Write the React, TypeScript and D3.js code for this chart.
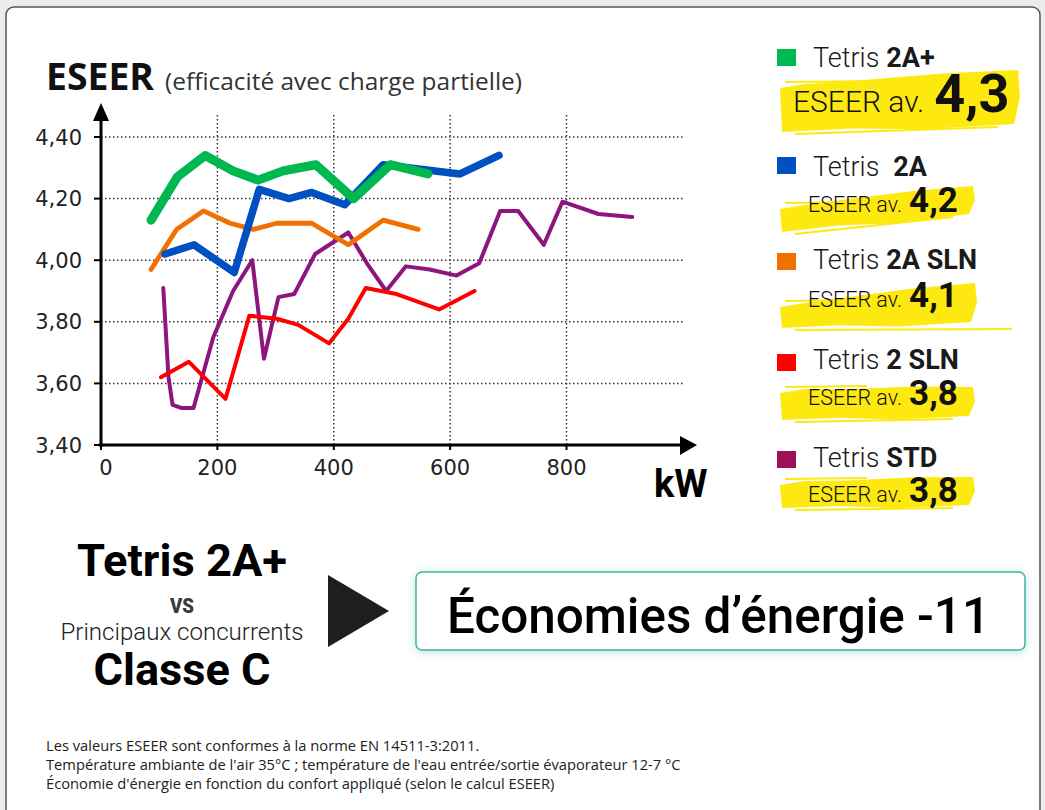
import * as d3 from "d3";

// series, in legend order
const seriesNames = ["2A+", "2A", "2A SLN", "2 SLN", "STD"];
const seriesColors = ["#00b850", "#0050c2", "#f07000", "#ff0000", "#8e1580"];
const legendColors = ["#00b850", "#0050c2", "#f07000", "#ff0000", "#9e1058"];
const eseerAverages = ["4,3", "4,2", "4,1", "3,8", "3,8"];

const kw2APlus = [86, 131, 179, 227, 270, 313, 369, 434, 497, 562];
const eseer2APlus = [4.13, 4.27, 4.34, 4.29, 4.26, 4.29, 4.31, 4.2, 4.31, 4.28];
const kw2A = [110, 160, 229, 272, 323, 362, 419, 485, 617, 684];
const eseer2A = [4.02, 4.05, 3.96, 4.23, 4.2, 4.22, 4.18, 4.31, 4.28, 4.34];
const kw2ASLN = [86, 130, 176, 222, 262, 302, 362, 425, 485, 545];
const eseer2ASLN = [3.97, 4.1, 4.16, 4.12, 4.1, 4.12, 4.12, 4.05, 4.13, 4.1];
const kw2SLN = [103, 151, 214, 255, 302, 339, 392, 425, 455, 508, 581, 642];
const eseer2SLN = [3.62, 3.67, 3.55, 3.82, 3.81, 3.79, 3.73, 3.81, 3.91, 3.89, 3.84, 3.9];
const kwSTD = [107, 116, 123, 139, 159, 193, 227, 260, 280, 305, 332, 368, 425, 457, 490, 524, 565, 611, 650, 686, 717, 761, 793, 855, 913];
const eseerSTD = [3.91, 3.62, 3.53, 3.52, 3.52, 3.75, 3.9, 4.0, 3.68, 3.88, 3.89, 4.02, 4.09, 3.99, 3.9, 3.98, 3.97, 3.95, 3.99, 4.16, 4.16, 4.05, 4.19, 4.15, 4.14];

const seriesKw = [kw2APlus, kw2A, kw2ASLN, kw2SLN, kwSTD];
const seriesEseer = [eseer2APlus, eseer2A, eseer2ASLN, eseer2SLN, eseerSTD];

const yTicks = [3.4, 3.6, 3.8, 4.0, 4.2, 4.4];
const xTicks = [0, 200, 400, 600, 800];

const footnotes = [
  "Les valeurs ESEER sont conformes à la norme EN 14511-3:2011.",
  "Température ambiante de l'air 35°C ; température de l'eau entrée/sortie évaporateur 12-7 °C",
  "Économie d'énergie en fonction du confort appliqué (selon le calcul ESEER)",
];

// layout
const lineWidths = [9, 7.5, 4.8, 4, 4];
const legendSquareY = [49, 157, 253, 354, 451];
const legendNameY = [67, 176, 269, 369, 467];
const legendAvgY = [112, 212, 307, 405, 502];
// x0, x1, topLeft, topRight, bottomLeft, bottomRight
const highlights = [
  [780, 1018, 84, 70, 132, 124],
  [780, 973, 205, 186, 232, 214],
  [780, 975, 303, 283, 328, 322],
  [780, 973, 389, 387, 420, 416],
  [780, 973, 481, 477, 508, 505],
];

const SANS = "Roboto, 'Noto Sans', sans-serif";
const OPEN = "'Open Sans', 'Noto Sans', sans-serif";

function brushPath(h: number[]) {
  const [x0, x1, tl, tr, bl, br] = h;
  const w = x1 - x0;
  const lerp = (a: number, b: number, t: number) => a + (b - a) * t;
  const pts: [number, number][] = [
    [x0, tl + 4],
    [x0 + 25, tl],
    [x0 + w * 0.35, lerp(tl, tr, 0.35) + 1],
    [x0 + w * 0.7, lerp(tl, tr, 0.7) - 1],
    [x1, tr],
    [x1 + 2, lerp(tr, br, 0.5)],
    [x1 - 4, br],
    [x0 + w * 0.6, lerp(bl, br, 0.6) + 2],
    [x0 + w * 0.3, lerp(bl, br, 0.3) - 1],
    [x0 + 2, bl],
  ];
  return d3.line()(pts) + "Z";
}

export default function App() {
  const x = d3.scaleLinear().domain([0, 800]).range([101, 566.5]);
  const y = d3.scaleLinear().domain([3.4, 4.4]).range([445, 137]);
  const fmt = (v: number) => d3.format(".2f")(v).replace(".", ",");
  const line = d3
    .line<[number, number]>()
    .x((d) => x(d[0]))
    .y((d) => y(d[1]));

  const plotRight = 683;
  const order = [4, 3, 2, 1, 0];

  return (
    <svg
      width={1045}
      height={810}
      style={{ position: "absolute", left: 0, top: 0, background: "#ececec" }}
    >
      <defs>
        <filter id="glow" x="-10%" y="-40%" width="120%" height="180%">
          <feDropShadow dx="0" dy="2" stdDeviation="5" floodColor="#3aa99a" floodOpacity="0.3" />
        </filter>
      </defs>
      <rect x={6} y={7} width={1034} height={812} rx={8} fill="#fff" stroke="#555" strokeWidth={1.5} />

      {/* title */}
      <text x={46} y={90} fontFamily={OPEN} fill="#111">
        <tspan fontSize={37} fontWeight={700} textLength={108} lengthAdjust="spacingAndGlyphs">ESEER</tspan>
      </text>
      <text x={165} y={90} fontFamily={OPEN} fontSize={23.5} fill="#333" textLength={357} lengthAdjust="spacingAndGlyphs">
        (efficacité avec charge partielle)
      </text>

      {/* grid */}
      {yTicks.slice(1).map((t) => (
        <line key={"gy" + t} x1={101} x2={plotRight} y1={y(t)} y2={y(t)} stroke="#333" strokeWidth={1.5} strokeDasharray="1.5 2.5" />
      ))}
      {xTicks.slice(1).map((t) => (
        <line key={"gx" + t} x1={x(t)} x2={x(t)} y1={115} y2={445} stroke="#333" strokeWidth={1.5} strokeDasharray="1.5 2.5" />
      ))}

      {/* axes */}
      <line x1={101} x2={101} y1={447} y2={115} stroke="#000" strokeWidth={3} />
      <path d="M101 103 L93 121 L109 121 Z" fill="#000" />
      <line x1={99} x2={682} y1={445} y2={445} stroke="#000" strokeWidth={3} />
      <path d="M697 445 L680 436 L680 455 Z" fill="#000" />
      {yTicks.map((t) => (
        <g key={"ty" + t}>
          <line x1={94} x2={101} y1={y(t)} y2={y(t)} stroke="#000" strokeWidth={2} />
          <text x={82} y={y(t) + 7.5} textAnchor="end" fontFamily="'DejaVu Sans', sans-serif" fontSize={21} fill="#222">
            {fmt(t)}
          </text>
        </g>
      ))}
      {xTicks.map((t) => (
        <g key={"tx" + t}>
          <line x1={x(t)} x2={x(t)} y1={445} y2={450} stroke="#000" strokeWidth={2} />
          <text x={x(t) + (t === 0 ? 5 : 0)} y={475} textAnchor="middle" fontFamily="'DejaVu Sans', sans-serif" fontSize={21} fill="#222">
            {t}
          </text>
        </g>
      ))}
      <text x={654} y={497} fontFamily={SANS} fontWeight={700} fontSize={38} fill="#000">kW</text>

      {/* series */}
      {order.map((i) => (
        <path
          key={seriesNames[i]}
          d={line(seriesKw[i].map((k, j) => [k, seriesEseer[i][j]]) as [number, number][]) || ""}
          fill="none"
          stroke={seriesColors[i]}
          strokeWidth={lineWidths[i]}
          strokeLinecap="round"
          strokeLinejoin="round"
        />
      ))}

      {/* legend */}
      {seriesNames.map((name, i) => {
        const h = highlights[i];
        const big = i === 0;
        return (
          <g key={"lg" + name}>
            <path d={brushPath(h)} fill="#fde910" />
            <line x1={h[0] + 5} x2={h[0] + (h[1] - h[0]) * 0.45} y1={h[2] - 2} y2={h[2] - 3} stroke="#fde910" strokeWidth={2} />
            <line x1={h[0] + 15} x2={i === 2 ? 1012 : h[1] - 20} y1={h[4] + 2} y2={h[5] + (i === 2 ? 7 : 3)} stroke="#fde910" strokeWidth={2} />
            <rect x={777} y={legendSquareY[i]} width={19} height={17} fill={legendColors[i]} />
            <text x={813} y={legendNameY[i]} fontFamily={SANS} fontSize={27} fill="#1a1a1a">
              <tspan fontWeight={300}>Tetris</tspan>
              <tspan fontWeight={700} dx={i === 1 ? 14 : 7}>{name}</tspan>
            </text>
            <text x={big ? 793 : 808} y={legendAvgY[i]} fontFamily={SANS} fill="#111">
              <tspan fontWeight={300} fontSize={big ? 30 : 21.5}>ESEER av.</tspan>
              <tspan fontWeight={700} fontSize={big ? 54 : 35} dx={big ? 10 : 7}>{eseerAverages[i]}</tspan>
            </text>
          </g>
        );
      })}

      {/* comparison */}
      <text x={182} y={576} textAnchor="middle" fontFamily={SANS} fontWeight={700} fontSize={44} textLength={210} lengthAdjust="spacingAndGlyphs" fill="#000">
        Tetris 2A+
      </text>
      <text x={182} y={613} textAnchor="middle" fontFamily={SANS} fontWeight={900} fontSize={21} fill="#3a3a3a" textLength={24} lengthAdjust="spacingAndGlyphs">
        VS
      </text>
      <text x={182} y={640} textAnchor="middle" fontFamily={SANS} fontWeight={300} fontSize={24} textLength={243} lengthAdjust="spacingAndGlyphs" fill="#222">
        Principaux concurrents
      </text>
      <text x={182} y={685} textAnchor="middle" fontFamily={SANS} fontWeight={700} fontSize={45} textLength={177} lengthAdjust="spacingAndGlyphs" fill="#000">
        Classe C
      </text>
      <path d="M328 575 L389 611 L328 647 Z" fill="#1e1e1e" />
      <rect x={416} y={572} width={609} height={78} rx={6} fill="#fff" stroke="#3eb59f" strokeWidth={1.5} filter="url(#glow)" />
      <text x={447} y={633} fontFamily={SANS} fontWeight={500} fontSize={50} textLength={543} lengthAdjust="spacingAndGlyphs" fill="#000">
        Économies d’énergie -11
      </text>

      {/* footnotes */}
      {footnotes.map((f, i) => (
        <text key={"fn" + i} x={46} y={751 + i * 19} fontFamily={OPEN} fontSize={14.7} fill="#222">
          {f}
        </text>
      ))}
    </svg>
  );
}
